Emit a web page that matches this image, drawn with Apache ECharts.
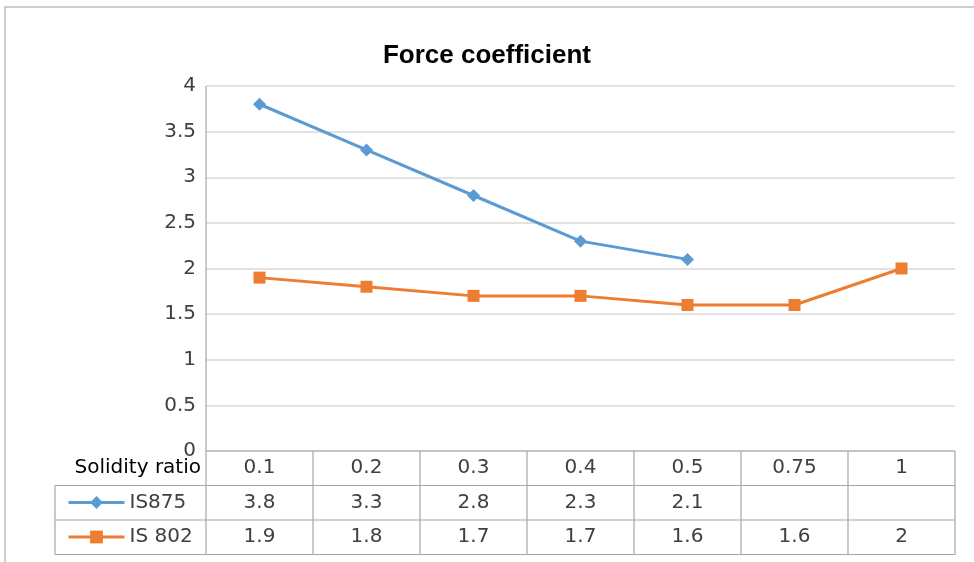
<!DOCTYPE html>
<html>
<head>
<meta charset="utf-8">
<script src="https://cdn.jsdelivr.net/npm/echarts@6/dist/echarts.min.js"></script>
<style>
html,body{margin:0;padding:0;background:#fff;}
#chart{width:974px;height:562px;}
</style>
</head>
<body>
<div id="chart"></div>
<script>
const categories = ['0.1', '0.2', '0.3', '0.4', '0.5', '0.75', '1'];
const is875 = [3.8, 3.3, 2.8, 2.3, 2.1, null, null];
const is802 = [1.9, 1.8, 1.7, 1.7, 1.6, 1.6, 2];
const seriesNames = ['IS875', 'IS 802'];
const tableHeader = 'Solidity ratio';
const chartTitle = 'Force coefficient';

const FONT = 'DejaVu Sans';
const FS = 20;
const TXT = '#404040';
const BLUE = '#5B9BD5';
const ORANGE = '#ED7D31';

const chart = echarts.init(document.getElementById('chart'), null, {renderer: 'canvas'});

const option = {
  animation: false,
  backgroundColor: '#fff',
  title: {
    text: chartTitle,
    left: 'center',
    top: 38,
    textStyle: {fontFamily: 'Liberation Sans', fontWeight: 'bold', fontSize: 26, color: '#000'}
  },
  grid: {left: 206, right: 19, top: 86, bottom: 111, containLabel: false},
  xAxis: {
    type: 'category',
    data: categories,
    boundaryGap: true,
    axisLabel: {show: false},
    axisTick: {show: false},
    axisLine: {show: false},
    splitLine: {show: false}
  },
  yAxis: {
    type: 'value',
    min: 0, max: 4, interval: 0.5,
    axisLine: {show: false},
    axisTick: {show: false},
    axisLabel: {fontFamily: FONT, fontSize: FS, color: TXT, margin: 10},
    splitLine: {lineStyle: {color: '#d9d9d9', width: 1.5}}
  },
  legend: {
    orient: 'vertical',
    left: 62,
    top: 487,
    itemWidth: 56,
    itemHeight: 16,
    itemGap: 13.5,
    lineStyle: {width: 3},
    textStyle: {fontFamily: FONT, fontSize: FS, color: TXT, lineHeight: 21},
    data: seriesNames
  },
  series: [
    {
      name: seriesNames[0], type: 'line', data: is875,
      symbol: 'diamond', symbolSize: 13,
      lineStyle: {color: BLUE, width: 3},
      itemStyle: {color: BLUE},
      connectNulls: false
    },
    {
      name: seriesNames[1], type: 'line', data: is802,
      symbol: 'rect', symbolSize: 12,
      lineStyle: {color: ORANGE, width: 3},
      itemStyle: {color: ORANGE}
    }
  ]
};
chart.setOption(option);

// Build data table using the library's scale positions
const x0 = chart.convertToPixel({xAxisIndex: 0}, 0);
const x1 = chart.convertToPixel({xAxisIndex: 0}, 1);
const band = x1 - x0;
const leftEdge = x0 - band / 2;
const rightEdge = chart.convertToPixel({xAxisIndex: 0}, categories.length - 1) + band / 2;
const yTop = chart.convertToPixel({yAxisIndex: 0}, 4);
const yZero = chart.convertToPixel({yAxisIndex: 0}, 0);
const rowH = 34.5;
const rows = [yZero, yZero + rowH, yZero + 2 * rowH, yZero + 3 * rowH];
const tableLeft = 55;
const LINE = '#a6a6a6';

const g = [];
// outer chart border
g.push({type: 'rect', shape: {x: 5, y: 7, width: 1000, height: 600},
  style: {fill: null, stroke: '#bfbfbf', lineWidth: 1.5}, silent: true, z: 0});
// y axis line extending through table
g.push({type: 'line', shape: {x1: leftEdge, y1: yTop, x2: leftEdge, y2: rows[3]},
  style: {stroke: LINE, lineWidth: 1.2}, z: 5});
// horizontal table lines
g.push({type: 'line', shape: {x1: leftEdge, y1: rows[0], x2: rightEdge, y2: rows[0]}, style: {stroke: LINE, lineWidth: 1.2}, z: 5});
for (let r = 1; r < 4; r++) {
  g.push({type: 'line', shape: {x1: tableLeft, y1: rows[r], x2: rightEdge, y2: rows[r]}, style: {stroke: LINE, lineWidth: 1.2}, z: 5});
}
// left border of series label cells
g.push({type: 'line', shape: {x1: tableLeft, y1: rows[1], x2: tableLeft, y2: rows[3]}, style: {stroke: LINE, lineWidth: 1.2}, z: 5});
// vertical cell lines
for (let i = 0; i < categories.length; i++) {
  const xb = chart.convertToPixel({xAxisIndex: 0}, i) + band / 2;
  g.push({type: 'line', shape: {x1: xb, y1: rows[0], x2: xb, y2: rows[3]}, style: {stroke: LINE, lineWidth: 1.2}, z: 5});
}
// header label
g.push({type: 'text', x: leftEdge - 5, y: (rows[0] + rows[1]) / 2,
  style: {text: tableHeader, font: FS + 'px "' + FONT + '"', fill: '#000', align: 'right', verticalAlign: 'middle'}, z: 6});
// cell values
const tableRows = [categories, is875, is802];
for (let r = 0; r < 3; r++) {
  for (let i = 0; i < categories.length; i++) {
    const v = tableRows[r][i];
    if (v === null || v === undefined) continue;
    g.push({type: 'text', x: chart.convertToPixel({xAxisIndex: 0}, i), y: (rows[r] + rows[r + 1]) / 2,
      style: {text: String(v), font: FS + 'px "' + FONT + '"', fill: TXT, align: 'center', verticalAlign: 'middle'}, z: 6});
  }
}
chart.setOption({graphic: g});
</script>
</body>
</html>
